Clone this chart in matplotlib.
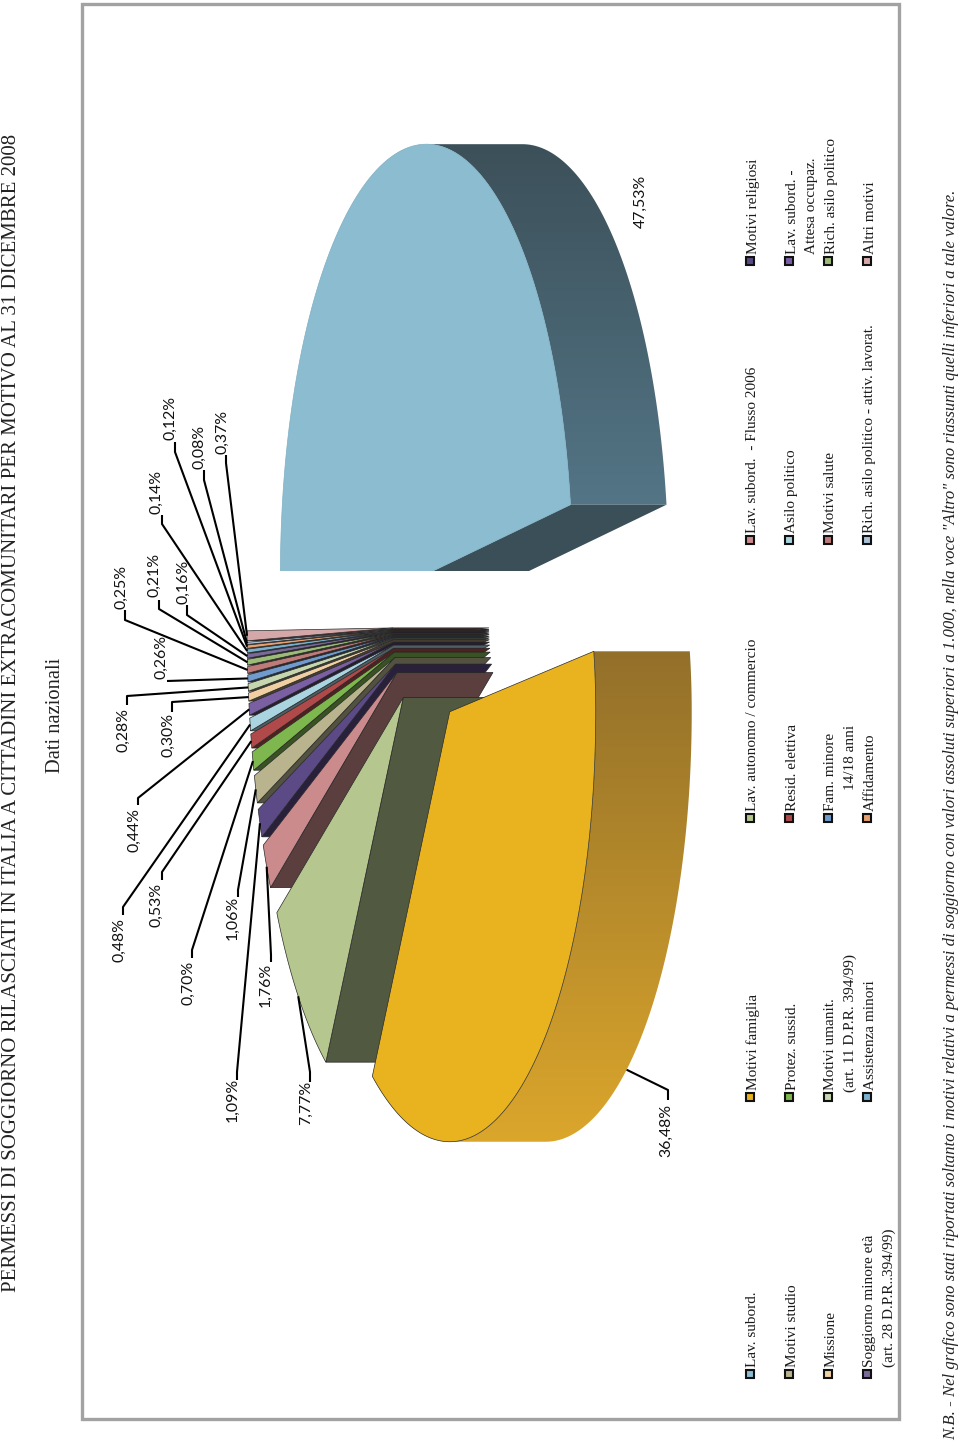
import numpy as np
import matplotlib
matplotlib.use("Agg")
import matplotlib.pyplot as plt
from matplotlib.patches import Polygon, Rectangle
from matplotlib.colors import to_rgb, LinearSegmentedColormap

# ---------- data ----------
motivi = ["Lav. subord.", "Motivi famiglia", "Lav. autonomo / commercio", "Lav. subord.  - Flusso 2006",
          "Motivi religiosi", "Motivi studio", "Protez. sussid.", "Resid. elettiva", "Asilo politico",
          "Lav. subord. -\nAttesa occupaz.", "Missione", "Motivi umanit.\n(art. 11 D.P.R. 394/99)",
          "Fam. minore\n14/18 anni", "Motivi salute", "Rich. asilo politico",
          "Soggiorno minore età\n(art. 28 D.P.R..394/99)", "Assistenza minori", "Affidamento",
          "Rich. asilo politico - attiv. lavorat.", "Altri motivi"]
percent = [47.53, 36.48, 7.77, 1.76, 1.09, 1.06, 0.70, 0.53, 0.48, 0.44,
           0.30, 0.28, 0.26, 0.25, 0.21, 0.16, 0.14, 0.12, 0.08, 0.37]
colori = ["#8bbcd0", "#e9b320", "#b5c78f", "#cb8b8d", "#5b4a85", "#b9b48e", "#7db74d", "#b0494a",
          "#a9d4e0", "#7a5fa3", "#f0cfa2", "#c6d6ae", "#6f9bcf", "#bf7a7a", "#9cba78", "#7a6a9a",
          "#7ab0cc", "#e8a070", "#a8c0d8", "#d4a8a8"]
titolo = "PERMESSI DI SOGGIORNO RILASCIATI IN ITALIA A CITTADINI EXTRACOMUNITARI PER MOTIVO AL 31 DICEMBRE 2008"
sottotitolo = "Dati nazionali"
nota = ("N.B. - Nel grafico sono stati riportati soltanto i motivi relativi a permessi di soggiorno con valori "
        "assoluti superiori a 1.000, nella voce \"Altro\" sono riassunti quelli inferiori a tale valore.")

# ---------- layout (pixel frame of the page) ----------
A, B, DEPTH = 146.0, 430.0, 96.0
PHI_BLUE_END = -9.3
# label centre (x, y), elbow (x, y), stub end y
etichette_pos = [
    (641, 201, None, None, None), (666, 1130, 668, 1090, 1100), (306, 1103, 310, 1072, 1082),
    (266, 985, 271, 955, 962), (233, 1100, 237, 1072, 1080), (233, 918, 238, 890, 897),
    (188, 983, 192, 950, 958), (156, 905, 162, 872, 880), (119, 940, 123, 907, 915),
    (134, 830, 138, 798, 805), (168, 735, 172, 702, 712), (123, 730, 127, 696, 705),
    (161, 657, 167, 681, 681), (121, 587, 125, 620, 610), (154, 575, 159, 609, 600),
    (183, 582, 187, 615, 605), (156, 492, 162, 524, 515), (170, 418, 175, 452, 442),
    (199, 447, 204, 480, 470), (222, 432, 226, 463, 455)]
leg_x = [750, 789, 828, 867]
leg_y = [1374, 1097, 818, 540, 261]
leg_indent = {"(art. 11 D.P.R. 394/99)": -2, "14/18 anni": 21, "Attesa occupaz.": 0, "(art. 28 D.P.R..394/99)": 0}

plt.rcParams["font.family"] = ["Liberation Serif", "DejaVu Serif"]
fig = plt.figure(figsize=(9.6, 14.48), dpi=100)
ax = fig.add_axes([0, 0, 1, 1])
ax.axis("off")


def rim(cx, cy, a0, a1, n=120, up=1.0):
    t = np.radians(np.linspace(a0, a1, n))
    s = np.sin(t)
    return np.column_stack([cx + A * np.cos(t), cy + B * s * np.where(s < 0, up, 1.0)])


def centre(mid):
    m = np.radians(mid)
    s = np.sin(m)
    return 429.5 + 36.5 * np.cos(m), 626 + (103 if s > 0 else 52) * s


def dark(c, f=0.44):
    return tuple(v * f for v in to_rgb(c))


def gradient_wall(poly, y0, y1, c0, c1, z):
    cmap = LinearSegmentedColormap.from_list("w", [c0, c1])
    im = ax.imshow(np.linspace(0, 1, 256)[:, None], extent=(poly[:, 0].min(), poly[:, 0].max(), y1, y0),
                   cmap=cmap, aspect="auto", zorder=z)
    im.set_clip_path(Polygon(poly, closed=True, transform=ax.transData))


shares = np.array(percent) * 3.6
shares = shares * 360 / shares.sum()
start = PHI_BLUE_END - shares[0] + np.concatenate([[0], np.cumsum(shares)[:-1]])
end = start + shares
mid = (start + end) / 2

# frame
ax.add_patch(Rectangle((81.5, 4), 817.5, 1415, fill=False, ec="#a2a2a2", lw=2.4, zorder=0.5))

# the blue slice is cut off straight at its lower end
clip_blue = Rectangle((0, 0), 960, 570.5, transform=ax.transData)

# draw order: blue, then the thin fan from the last slice to the third, then yellow
order = [0] + list(range(len(percent) - 1, 1, -1)) + [1]
for z, i in enumerate(order):
    cx, cy = centre(mid[i])
    zb = 2 + z
    up = 0.87 if i == 1 else 1.0
    r = rim(cx, cy, start[i], end[i], up=up)
    if i in (0, 1):
        a0, a1 = max(start[i], -90), min(end[i], 90)
        w = rim(cx, cy, a0, a1, up=up)
        wall = np.vstack([w, (w + [DEPTH, 0])[::-1]])
        if i == 0:
            gradient_wall(wall, w[:, 1].min(), w[:, 1].max(), "#3c5059", "#537586", zb)
        else:
            gradient_wall(wall, w[:, 1].min(), w[:, 1].max(), "#93702a", "#dba62c", zb)
    # the visible radial face: blue shows its closing edge, the others their opening edge
    sx, sy = r[-1] if i == 0 else r[0]
    side = [(cx, cy), (sx, sy), (sx + DEPTH, sy), (cx + DEPTH, cy)]
    ec_side = "#222222" if i >= 2 else "none"
    f_side = 0.42 if i == 0 else (0.45 if i < 9 else 0.3)
    if i != 1:
        p = ax.add_patch(Polygon(side, closed=True, fc=dark(colori[i], f_side), ec=ec_side, lw=0.5, zorder=zb + 0.1))
        if i == 0:
            p.set_clip_path(clip_blue)
    p = ax.add_patch(Polygon(np.vstack([[cx, cy], r]), closed=True, fc=colori[i],
                             ec="#7fb0c4" if i == 0 else "#2a2a2a", lw=0.5, zorder=zb + 0.2))
    if i == 0:
        p.set_clip_path(clip_blue)

# percentage labels with leader lines
for i, (tx, ty, ex, ey, ee) in enumerate(etichette_pos):
    testo = f"{percent[i]:.2f}%".replace(".", ",")
    ax.text(tx, ty, testo, rotation=90, ha="center", va="center", fontsize=11.4,
            family=["Lato", "DejaVu Sans"], color="#111111", zorder=60)
    if ex is None:
        continue
    cx, cy = centre(mid[i])
    t = np.radians(mid[i])
    px, py = cx + A * np.cos(t), cy + B * np.sin(t)
    if i == 1:
        px += DEPTH
    ax.plot([px, ex, ex], [py, ey, ee], color="black", lw=1.5, zorder=50, solid_capstyle="butt")

# legend
n_col = len(leg_y)
for k, etichetta in enumerate(motivi):
    row, col = k // n_col, k % n_col
    x, y = leg_x[row], leg_y[col]
    ax.add_patch(Rectangle((x - 4, y - 4), 8, 8, fc=colori[k], ec="#111111", lw=1.5, zorder=60))
    for j, riga in enumerate(etichetta.split("\n")):
        ax.text(x + 3 + j * 19, y - 7 + (leg_indent.get(riga, 0) * -1 if j else 0), riga, rotation=90,
                ha="center", va="bottom", fontsize=11, color="#1a1a1a", zorder=60)

# titles and note
ax.text(12, 713, titolo, rotation=90, ha="center", va="center", fontsize=15, color="#222222")
ax.text(56, 715, sottotitolo, rotation=90, ha="center", va="center", fontsize=14.8, color="#222222")
ax.text(951, 815, nota, rotation=90, ha="center", va="center", fontsize=12.1, style="italic", color="#222222")

ax.set_xlim(0, 960)
ax.set_ylim(1448, 0)
fig.savefig("out.png", dpi=100, facecolor="white")
